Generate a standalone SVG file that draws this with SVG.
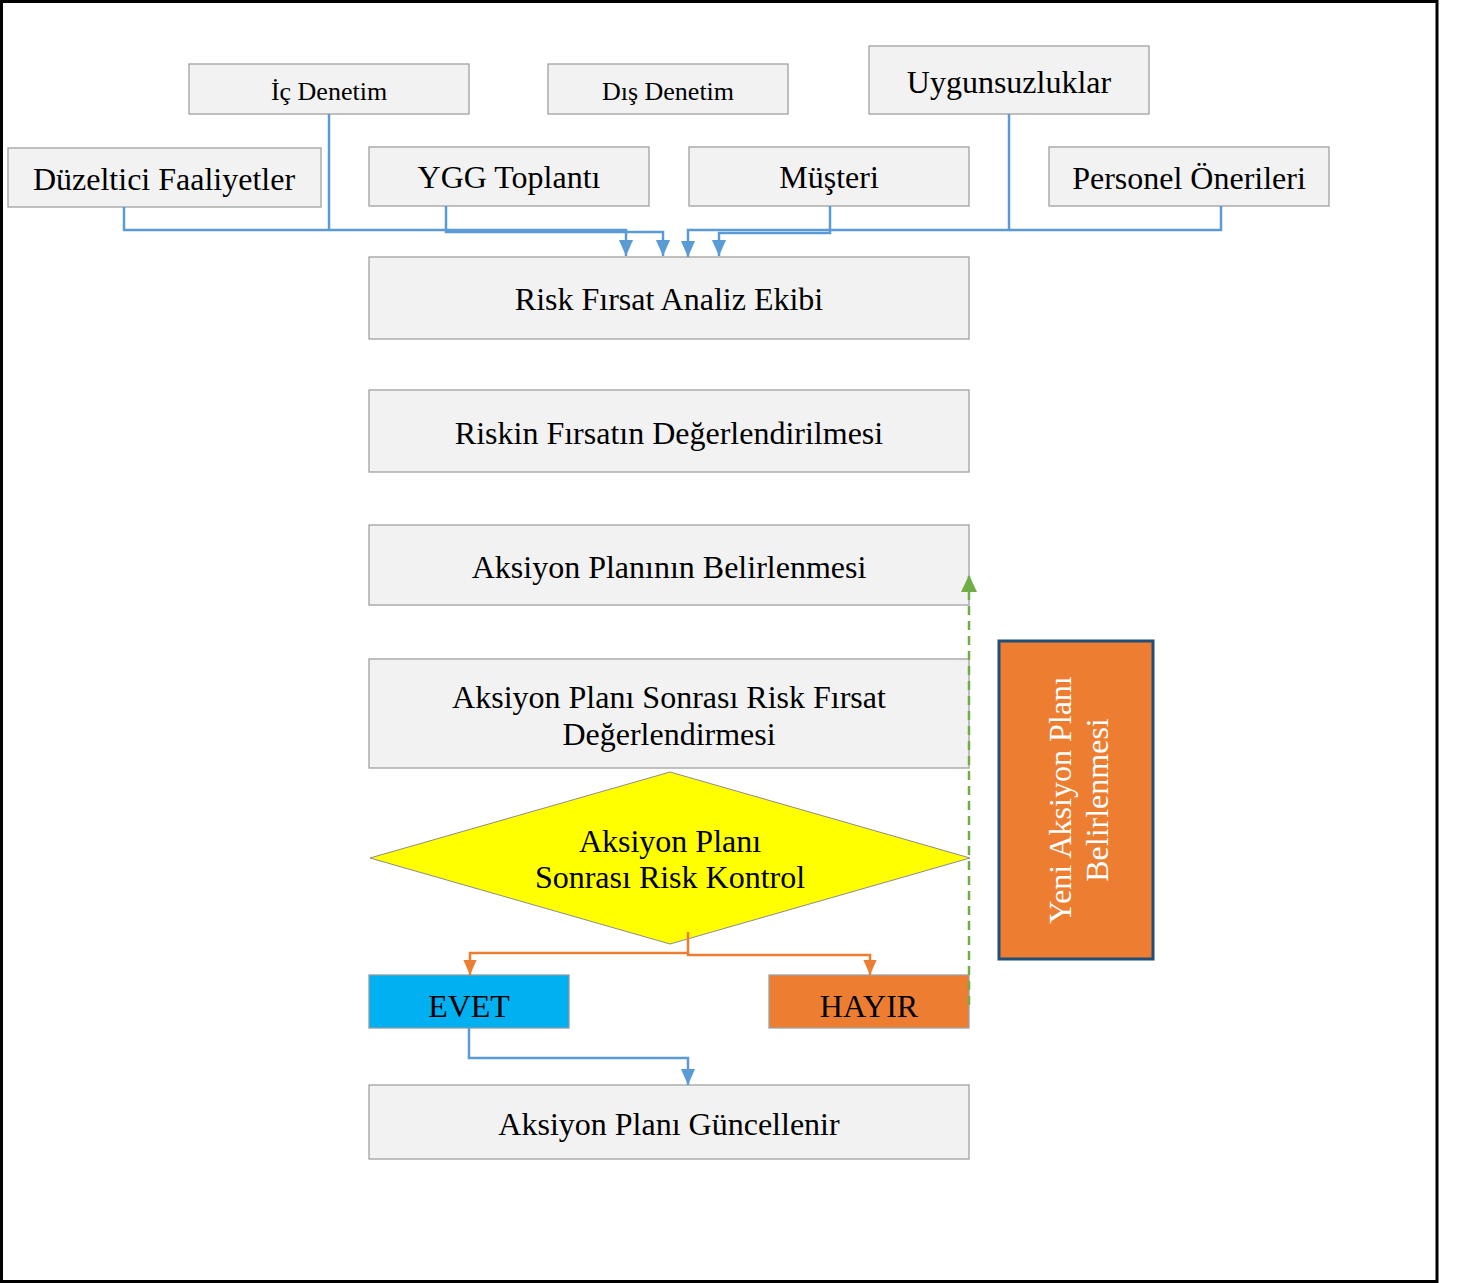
<svg xmlns="http://www.w3.org/2000/svg" width="1459" height="1283" viewBox="0 0 1459 1283">
<style>
.box{fill:#F2F2F2;stroke:#A0A0A0;stroke-width:1.3}
.t{font-family:"Liberation Serif","Times New Roman",serif;fill:#000;text-anchor:middle}
.l{font-size:32px}
.s{font-size:26px}
.blue{fill:none;stroke:#5B9BD5;stroke-width:2.5}
.orange{fill:none;stroke:#ED7D31;stroke-width:2.5}
.green{fill:none;stroke:#70AD47;stroke-width:2.5;stroke-dasharray:9 6}
</style>
<defs>
<marker id="ab" viewBox="0 0 10 10" refX="10" refY="5" markerWidth="16" markerHeight="16" markerUnits="userSpaceOnUse" orient="auto"><path d="M0,0.6 L10,5 L0,9.4 Z" fill="#5B9BD5"/></marker>
<marker id="ao" viewBox="0 0 10 10" refX="10" refY="5" markerWidth="15" markerHeight="15" markerUnits="userSpaceOnUse" orient="auto"><path d="M0,0.6 L10,5 L0,9.4 Z" fill="#ED7D31"/></marker>
<marker id="ag" viewBox="0 0 10 10" refX="10" refY="5" markerWidth="17" markerHeight="17" markerUnits="userSpaceOnUse" orient="auto"><path d="M0,0.3 L10,5 L0,9.7 Z" fill="#70AD47"/></marker>
</defs>
<rect x="0" y="0" width="1459" height="1283" fill="#fff"/>
<rect x="1.5" y="1.5" width="1435.5" height="1280" fill="none" stroke="#000" stroke-width="3"/>

<g id="ic-denetim"><rect class="box" x="189" y="64" width="280" height="50"/><text class="t s" x="329" y="100">İç Denetim</text></g>
<g id="dis-denetim"><rect class="box" x="548" y="64" width="240" height="50"/><text class="t s" x="668" y="100">Dış Denetim</text></g>
<g id="uygunsuzluklar"><rect class="box" x="869" y="46" width="280" height="68"/><text class="t l" x="1009" y="93">Uygunsuzluklar</text></g>
<g id="duzeltici"><rect class="box" x="8" y="148" width="313" height="59"/><text class="t l" x="164" y="190">Düzeltici Faaliyetler</text></g>
<g id="ygg"><rect class="box" x="369" y="147" width="280" height="59"/><text class="t l" x="509" y="188">YGG Toplantı</text></g>
<g id="musteri"><rect class="box" x="689" y="147" width="280" height="59"/><text class="t l" x="829" y="188">Müşteri</text></g>
<g id="personel"><rect class="box" x="1049" y="147" width="280" height="59"/><text class="t l" x="1189" y="189">Personel Önerileri</text></g>

<g id="risk-ekibi"><rect class="box" x="369" y="257" width="600" height="82"/><text class="t l" x="669" y="310">Risk Fırsat Analiz Ekibi</text></g>
<g id="degerlendirme"><rect class="box" x="369" y="390" width="600" height="82"/><text class="t l" x="669" y="444">Riskin Fırsatın Değerlendirilmesi</text></g>
<g id="aksiyon-belirlenmesi"><rect class="box" x="369" y="525" width="600" height="80"/><text class="t l" x="669" y="578">Aksiyon Planının Belirlenmesi</text></g>
<g id="sonrasi-degerlendirme"><rect class="box" x="369" y="659" width="600" height="109"/><text class="t l" x="669" y="708">Aksiyon Planı Sonrası Risk Fırsat</text><text class="t l" x="669" y="745">Değerlendirmesi</text></g>

<g id="karar"><polygon points="670,772 970,858 670,944 370,858" fill="#FFFF00" stroke="#8C8C8C" stroke-width="1"/><text class="t l" x="670" y="852">Aksiyon Planı</text><text class="t l" x="670" y="888">Sonrası Risk Kontrol</text></g>

<g id="evet"><rect x="369" y="975" width="200" height="53" fill="#00B0F0" stroke="#8C9CA8" stroke-width="1.3"/><text class="t l" x="469" y="1017">EVET</text></g>
<g id="hayir"><rect x="769" y="975" width="200" height="53" fill="#ED7D31" stroke="#A0A0A0" stroke-width="1.3"/><text class="t l" x="869" y="1017">HAYIR</text></g>
<g id="guncellenir"><rect class="box" x="369" y="1085" width="600" height="74"/><text class="t l" x="669" y="1135">Aksiyon Planı Güncellenir</text></g>

<g id="yeni-aksiyon"><rect x="999" y="641" width="154" height="318" fill="#ED7D31" stroke="#1F4E79" stroke-width="3"/>
<text class="t l" style="fill:#fff" transform="translate(1071,800) rotate(-90)" x="0" y="0">Yeni Aksiyon Planı</text>
<text class="t l" style="fill:#fff" transform="translate(1108,800) rotate(-90)" x="0" y="0">Belirlenmesi</text></g>

<g id="connectors">
<path class="blue" d="M124,207 V230 H626 V256" marker-end="url(#ab)"/>
<path class="blue" d="M329,114 V230"/>
<path class="blue" d="M446,206 V232 H663 V256" marker-end="url(#ab)"/>
<path class="blue" d="M830,206 V233 H719 V256" marker-end="url(#ab)"/>
<path class="blue" d="M1009,114 V230 H688 V257" marker-end="url(#ab)"/>
<path class="blue" d="M1221,206 V230 H1009"/>
<path class="orange" d="M688,932 V953 H470 V975" marker-end="url(#ao)"/>
<path class="orange" d="M688,953 V955 H870 V975" marker-end="url(#ao)"/>
<path class="blue" d="M469,1028 V1058 H688 V1085" marker-end="url(#ab)"/>
<path class="green" d="M969,1005 V575" marker-end="url(#ag)"/>
</g>
</svg>
